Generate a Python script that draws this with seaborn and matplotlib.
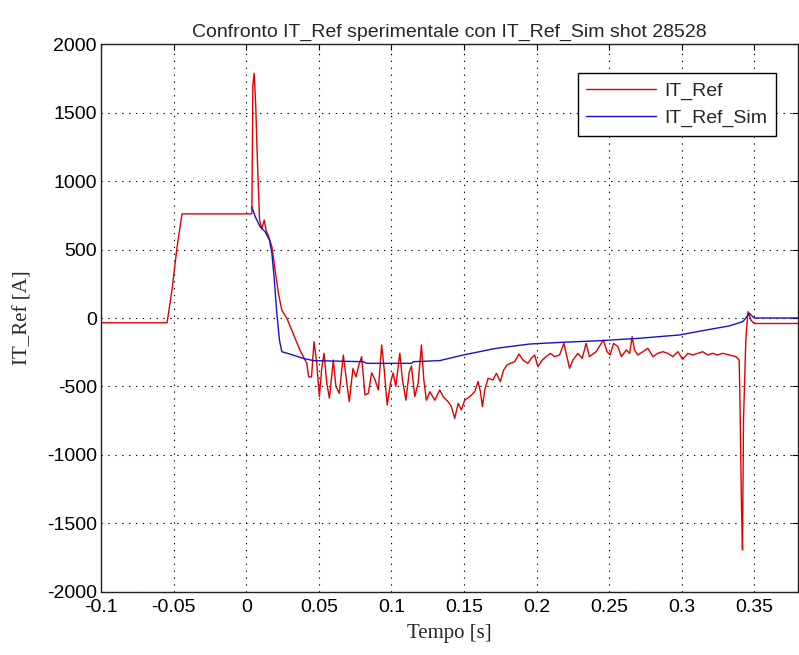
import matplotlib
matplotlib.use("Agg")
import matplotlib.pyplot as plt
import seaborn as sns
import pandas as pd

# Measured reference current (experimental)
ref_t = [
    -0.1, -0.0545, -0.0511, -0.0476, -0.0442, 0.0035, 0.0039, 0.0046, 0.0055, 0.0066,
    0.0074, 0.0085, 0.0092, 0.0108, 0.0124, 0.0137, 0.0153, 0.0177, 0.0199, 0.0222,
    0.0245, 0.028, 0.0314, 0.037, 0.0417, 0.043, 0.045, 0.0467, 0.0485, 0.0504,
    0.052, 0.0536, 0.0555, 0.0573, 0.060, 0.0618, 0.0641, 0.0669, 0.069, 0.071,
    0.0735, 0.0757, 0.0774, 0.0795, 0.0818, 0.0841, 0.0864, 0.0887, 0.091, 0.0933,
    0.095, 0.0971, 0.0994, 0.1012, 0.103, 0.1058, 0.1076, 0.110, 0.1122, 0.1138,
    0.1161, 0.1184, 0.1207, 0.1223, 0.1241, 0.1265, 0.1299, 0.1333, 0.1357, 0.139,
    0.1413, 0.1436, 0.146, 0.1482, 0.1505, 0.154, 0.1574, 0.1597, 0.1613, 0.1627,
    0.1643, 0.1666, 0.170, 0.1723, 0.175, 0.1773, 0.1796, 0.1819, 0.1849, 0.1879,
    0.1906, 0.194, 0.1963, 0.1986, 0.2009, 0.2039, 0.2066, 0.2094, 0.2124, 0.2158,
    0.2188, 0.2209, 0.2227, 0.225, 0.2284, 0.2314, 0.2341, 0.2364, 0.241, 0.246,
    0.2485, 0.2507, 0.253, 0.256, 0.2584, 0.2618, 0.2641, 0.2658, 0.2674, 0.2697,
    0.2732, 0.2766, 0.2801, 0.2835, 0.287, 0.2904, 0.2938, 0.2973, 0.3006, 0.3041,
    0.3075, 0.311, 0.3144, 0.3179, 0.3213, 0.3247, 0.3282, 0.3328, 0.3373, 0.3384,
    0.3395, 0.340, 0.3411, 0.3418, 0.3425, 0.3441, 0.3452, 0.3457, 0.3476, 0.3498,
    0.38,
]
ref_i = [
    -35, -35, 204, 520, 760, 760, 764, 1700, 1786, 1542,
    1250, 910, 715, 650, 715, 640, 600, 520, 350, 180,
    58, -2, -90, -234, -330, -430, -430, -173, -320, -574,
    -370, -257, -475, -585, -307, -500, -550, -270, -450, -610,
    -370, -430, -350, -282, -562, -550, -400, -450, -525, -197,
    -370, -635, -475, -400, -500, -257, -450, -600, -400, -350,
    -574, -475, -197, -450, -600, -538, -600, -525, -574, -610,
    -647, -732, -623, -671, -599, -574, -537, -464, -537, -647,
    -525, -440, -452, -404, -464, -380, -343, -331, -319, -263,
    -307, -331, -295, -270, -355, -307, -282, -258, -282, -270,
    -185, -282, -367, -307, -258, -295, -185, -282, -246, -160,
    -246, -270, -185, -209, -282, -233, -258, -136, -233, -270,
    -246, -221, -282, -258, -246, -258, -282, -246, -302, -258,
    -270, -258, -246, -270, -258, -270, -258, -270, -282, -295,
    -306, -574, -1377, -1693, -745, -160, 0, 46, -15, -40,
    -40,
]

# Simulated reference current
sim_t = [
    0.0039, 0.0062, 0.0096, 0.013, 0.016, 0.0177, 0.0192, 0.0211, 0.0229, 0.0245,
    0.030, 0.0394, 0.0463, 0.0806, 0.0829, 0.1139, 0.115, 0.1333, 0.1494, 0.1723,
    0.1952, 0.218, 0.2433, 0.2708, 0.2983, 0.3166, 0.3326, 0.3418, 0.343, 0.3464,
    0.3498, 0.38,
]
sim_i = [
    812, 740, 666, 630, 570, 472, 300, 34, -160, -246,
    -263, -295, -311, -319, -331, -331, -319, -311, -270, -221,
    -190, -177, -166, -148, -124, -88, -58, -27, -15, 35,
    0, 0,
]

x_ticks = [-0.1, -0.05, 0, 0.05, 0.1, 0.15, 0.2, 0.25, 0.3, 0.35]
x_labels = ["-0.1", "-0.05", "0", "0.05", "0.1", "0.15", "0.2", "0.25", "0.3", "0.35"]
y_ticks = [-2000, -1500, -1000, -500, 0, 500, 1000, 1500, 2000]
y_labels = ["-2000", "-1500", "-1000", "-500", "0", "500", "1000", "1500", "2000"]

sns.set_style("white")
plt.rcParams["font.family"] = ["Liberation Sans", "DejaVu Sans"]

fig = plt.figure(figsize=(7.99, 6.55), dpi=100)
ax = fig.add_axes([0.1264, 0.0962, 0.8723, 0.8366])

ref_df = pd.DataFrame({"t": ref_t, "i": ref_i})
sim_df = pd.DataFrame({"t": sim_t, "i": sim_i})

sns.lineplot(data=ref_df, x="t", y="i", ax=ax, color="#e00000", lw=1.0,
             estimator=None, sort=False, label="IT_Ref")
sns.lineplot(data=sim_df, x="t", y="i", ax=ax, color="#1414c8", lw=1.0,
             estimator=None, sort=False, label="IT_Ref_Sim")

ax.set_xlim(-0.1, 0.38)
ax.set_ylim(-2000, 2000)
ax.set_xticks(x_ticks)
ax.set_xticklabels(x_labels)
ax.set_yticks(y_ticks)
ax.set_yticklabels(y_labels)

ax.grid(True, color="black", linestyle=(0, (1.2, 5)), lw=0.8)
ax.tick_params(direction="in", length=4.5, width=0.8, top=True, right=True,
               labelsize=14, colors="black")
ax.tick_params(axis="x", pad=5)
ax.tick_params(axis="y", pad=3)
for sp in ax.spines.values():
    sp.set_color("#222222")
    sp.set_linewidth(1.0)

ax.set_xlabel("Tempo [s]", fontsize=15, family=["Liberation Serif"], labelpad=6)
ax.set_ylabel("IT_Ref [A]", fontsize=15, family=["Liberation Serif"], labelpad=10)
ax.set_title("Confronto IT_Ref sperimentale con IT_Ref_Sim shot 28528",
             fontsize=14, pad=5)

leg = ax.legend(loc="upper left", bbox_to_anchor=(0.684, 0.947), fontsize=14,
                frameon=True, fancybox=False, framealpha=1, borderpad=0.45,
                handlelength=3.6, handletextpad=0.4, labelspacing=0.5,
                borderaxespad=0)
leg.get_frame().set_edgecolor("black")
leg.get_frame().set_linewidth(1.0)

fig.savefig("out.png", dpi=100, facecolor="white")
